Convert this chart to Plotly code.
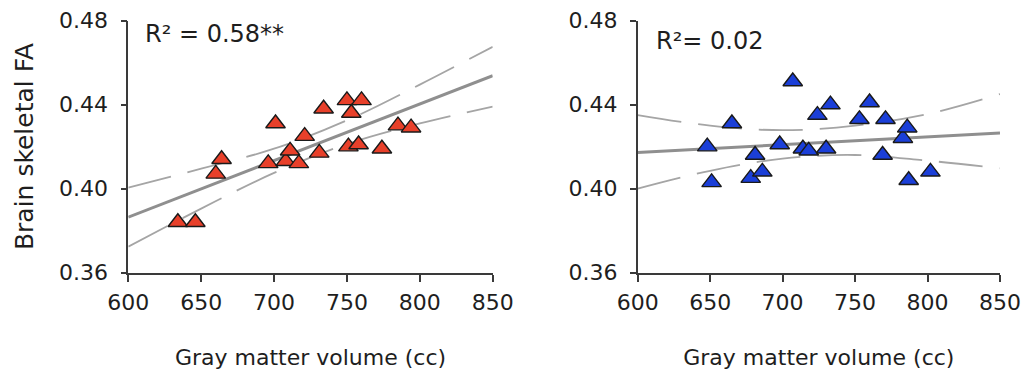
import plotly.graph_objects as go

# ---- data ----
left_x = [634, 646, 660, 664, 696, 701, 708, 711, 717, 721, 731, 734, 750, 751, 753, 758, 760, 774, 785, 794]
left_y = [0.384, 0.384, 0.407, 0.414, 0.412, 0.431, 0.413, 0.418, 0.412, 0.425, 0.417, 0.438, 0.442, 0.420, 0.436, 0.421, 0.442, 0.419, 0.430, 0.429]

right_x = [648, 651, 665, 678, 681, 686, 698, 707, 714, 718, 724, 730, 733, 753, 760, 769, 771, 783, 786, 787, 802]
right_y = [0.420, 0.403, 0.431, 0.405, 0.416, 0.408, 0.421, 0.451, 0.419, 0.418, 0.435, 0.419, 0.440, 0.433, 0.441, 0.416, 0.433, 0.424, 0.429, 0.404, 0.408]

fit_x = [600, 850]
left_fit_y = [0.3864, 0.4537]
right_fit_y = [0.4172, 0.4265]

band_x = [600, 650, 700, 750, 800, 850]
left_upper = [0.4005, 0.4095, 0.4190, 0.4325, 0.4495, 0.4675]
left_lower = [0.3724, 0.3905, 0.4075, 0.4212, 0.4310, 0.4390]
right_upper = [0.4350, 0.4300, 0.4278, 0.4300, 0.4355, 0.4450]
right_lower = [0.4000, 0.4085, 0.4143, 0.4160, 0.4133, 0.4097]

x_ticks = [600, 650, 700, 750, 800, 850]
y_ticks = [0.36, 0.40, 0.44, 0.48]
y_tick_text = ["0.36", "0.40", "0.44", "0.48"]
x_title = "Gray matter volume (cc)"
y_title = "Brain skeletal FA"
r2_left = "R² = 0.58**"
r2_right = "R²= 0.02"

# ---- styles ----
FONT = "DejaVu Sans"
TXT = "#1e1e1e"
AX = "#3a3a3a"
RED = "#e8402a"
BLUE = "#1b3fd8"
FIT = "#8f8f8f"
BAND = "#a5a5a5"

fig = go.Figure()

def add_panel(xs, ys, color, fit_y, up, lo, xa, ya):
    fig.add_trace(go.Scatter(x=band_x, y=up, mode="lines", xaxis=xa, yaxis=ya,
                             line=dict(color=BAND, width=1.8, dash="44px,17px", shape="spline"),
                             hoverinfo="skip", showlegend=False))
    fig.add_trace(go.Scatter(x=band_x, y=lo, mode="lines", xaxis=xa, yaxis=ya,
                             line=dict(color=BAND, width=1.8, dash="44px,17px", shape="spline"),
                             hoverinfo="skip", showlegend=False))
    fig.add_trace(go.Scatter(x=fit_x, y=fit_y, mode="lines", xaxis=xa, yaxis=ya,
                             line=dict(color=FIT, width=3), showlegend=False))
    fig.add_trace(go.Scatter(x=xs, y=ys, mode="markers", xaxis=xa, yaxis=ya,
                             marker=dict(symbol="triangle-up", size=17, color=color,
                                         line=dict(color="#1a1a1a", width=1.4)),
                             showlegend=False))

add_panel(left_x, left_y, RED, left_fit_y, left_upper, left_lower, "x", "y")
add_panel(right_x, right_y, BLUE, right_fit_y, right_upper, right_lower, "x2", "y2")

# page body has an 8px margin: the figure is sized to fit the window after it
OFF = 8
W, H = 1029 - OFF, 382 - OFF

def px(x):
    return (x - OFF) / W

def py(y):
    return 1 - (y - OFF) / H

ydom = [py(272.7), py(20.5)]

xcommon = dict(range=[600, 850], tickvals=x_ticks, showgrid=False, zeroline=False,
               automargin=False,
               showline=True, linecolor=AX, linewidth=1.6, ticks="outside", ticklen=7,
               tickwidth=1.6, tickcolor=AX, tickfont=dict(family=FONT, size=22, color=TXT),
               ticklabelstandoff=2,
               title=dict(text=x_title, font=dict(family=FONT, size=22, color=TXT), standoff=36))
ycommon = dict(range=[0.36, 0.48], tickvals=y_ticks, ticktext=y_tick_text, showgrid=False,
               zeroline=False, showline=True, linecolor=AX, linewidth=1.6, ticks="outside",
               automargin=False,
               ticklen=6, tickwidth=1.6, tickcolor=AX,
               tickfont=dict(family=FONT, size=22, color=TXT), ticklabelstandoff=8)

fig.update_layout(
    width=W, height=H, margin=dict(l=0, r=0, t=0, b=0, autoexpand=False),
    paper_bgcolor="white", plot_bgcolor="white", showlegend=False,
    xaxis=dict(domain=[px(128.3), px(492.7)], anchor="y", **xcommon),
    yaxis=dict(domain=ydom, anchor="x",
               title=dict(text=y_title, font=dict(family=FONT, size=25, color=TXT), standoff=18),
               **ycommon),
    xaxis2=dict(domain=[px(637.7), px(1000)], anchor="y2", **xcommon),
    yaxis2=dict(domain=ydom, anchor="x2", **ycommon),
    annotations=[
        dict(text=r2_left, xref="paper", yref="paper", x=px(143), y=py(34),
             xanchor="left", yanchor="middle", showarrow=False,
             font=dict(family=FONT, size=24, color=TXT)),
        dict(text=r2_right, xref="paper", yref="paper", x=px(654), y=py(40.5),
             xanchor="left", yanchor="middle", showarrow=False,
             font=dict(family=FONT, size=24, color=TXT)),
    ],
)

fig.write_html("out.html")
